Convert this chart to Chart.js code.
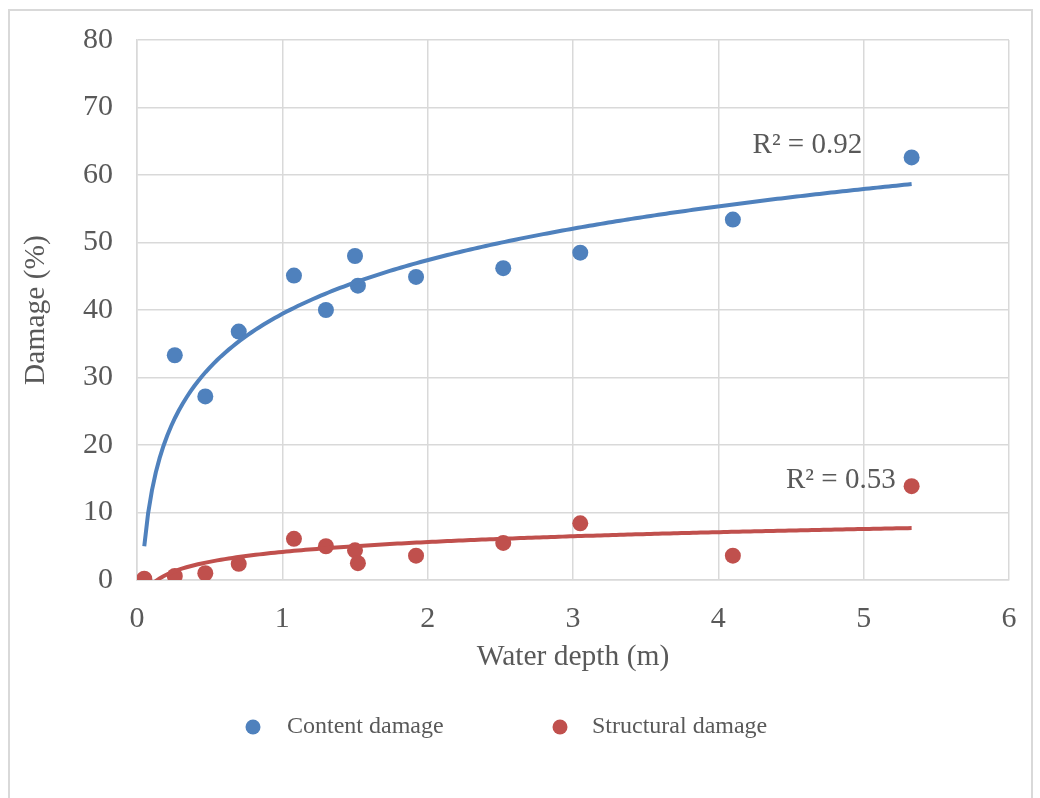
<!DOCTYPE html>
<html>
<head>
<meta charset="utf-8">
<script src="https://cdn.jsdelivr.net/npm/chart.js@4.4.1/dist/chart.umd.min.js"></script>
<style>
  html, body { margin: 0; padding: 0; background: #ffffff; overflow: hidden; }
  #frame {
    position: absolute; left: 8px; top: 9px; width: 1025px; height: 820px;
    border: 2px solid #d9d9d9; box-sizing: border-box;
  }
  #chart { position: absolute; left: 0; top: 0; }
</style>
</head>
<body>
<div id="frame"></div>
<canvas id="chart" width="1040" height="798"></canvas>
<script>
// Water depth (m) for each surveyed building
const depths = [0.05, 0.26, 0.47, 0.70, 1.08, 1.30, 1.50, 1.52, 1.92, 2.52, 3.05, 4.10, 5.33];
// Damage (%) per depth
const contentDamage = [0, 33.3, 27.2, 36.8, 45.1, 40.0, 48.0, 43.6, 44.9, 46.2, 48.5, 53.4, 62.6];
const structuralDamage = [0.2, 0.6, 1.0, 2.4, 6.1, 5.0, 4.4, 2.5, 3.6, 5.5, 8.4, 3.6, 13.9];
const seriesLabels = ['Content damage', 'Structural damage'];
const r2Labels = ['R² = 0.92', 'R² = 0.53'];
const xTicks = [0, 1, 2, 3, 4, 5, 6];
const yTicks = [0, 10, 20, 30, 40, 50, 60, 70, 80];

const BLUE = '#4f81bd';
const RED = '#c0504d';
const TEXT = '#595959';
const GRID = '#d9d9d9';
const FONT = "'Liberation Serif', 'Times New Roman', serif";

// Logarithmic least-squares fit, y = a*ln(x) + b, like the Excel trendline
function logFit(xs, ys) {
    const n = xs.length;
    const lx = xs.map(v => Math.log(v));
    const mx = lx.reduce((s, v) => s + v, 0) / n;
    const my = ys.reduce((s, v) => s + v, 0) / n;
    let sxy = 0, sxx = 0;
    for (let i = 0; i < n; i++) {
        sxy += (lx[i] - mx) * (ys[i] - my);
        sxx += (lx[i] - mx) * (lx[i] - mx);
    }
    const a = sxy / sxx;
    return { a: a, b: my - a * mx };
}

function trendPoints(xs, ys) {
    const fit = logFit(xs, ys);
    const lo = Math.min(...xs), hi = Math.max(...xs);
    const pts = [];
    const steps = 200;
    for (let i = 0; i <= steps; i++) {
        const x = lo + (hi - lo) * i / steps;
        pts.push({ x: x, y: fit.a * Math.log(x) + fit.b });
    }
    return pts;
}

const toPoints = (xs, ys) => xs.map((x, i) => ({ x: x, y: ys[i] }));

// R² labels, anchored by their right edge in data coordinates
const r2Plugin = {
    id: 'r2Labels',
    afterDatasetsDraw(chart) {
        const { ctx, scales: { x, y } } = chart;
        const anchors = [[4.99, 64.4], [5.22, 14.8]];
        ctx.save();
        ctx.font = '29px ' + FONT;
        ctx.fillStyle = TEXT;
        ctx.textAlign = 'right';
        ctx.textBaseline = 'middle';
        r2Labels.forEach((t, i) => {
            ctx.fillText(t, x.getPixelForValue(anchors[i][0]), y.getPixelForValue(anchors[i][1]));
        });
        ctx.restore();
    }
};

// Legend row under the axis title, markers only for the data series
const legendPlugin = {
    id: 'bottomLegend',
    afterDraw(chart) {
        const ctx = chart.ctx;
        const items = [[253, 287, BLUE], [560, 592, RED]];
        ctx.save();
        ctx.font = '24px ' + FONT;
        ctx.textBaseline = 'middle';
        ctx.textAlign = 'left';
        items.forEach((it, i) => {
            ctx.beginPath();
            ctx.arc(it[0], 727, 7.5, 0, Math.PI * 2);
            ctx.fillStyle = it[2];
            ctx.fill();
            ctx.fillStyle = TEXT;
            ctx.fillText(seriesLabels[i], it[1], 727);
        });
        ctx.restore();
    }
};

new Chart(document.getElementById('chart'), {
    type: 'scatter',
    data: {
        datasets: [
            {
                label: seriesLabels[0],
                data: toPoints(depths, contentDamage),
                backgroundColor: BLUE,
                borderWidth: 0,
                pointRadius: 8,
                order: 3
            },
            {
                label: seriesLabels[0] + ' trend',
                type: 'line',
                data: trendPoints(depths, contentDamage),
                borderColor: BLUE,
                borderWidth: 4,
                pointRadius: 0,
                fill: false,
                order: 2
            },
            {
                label: seriesLabels[1],
                data: toPoints(depths, structuralDamage),
                backgroundColor: RED,
                borderWidth: 0,
                pointRadius: 8,
                order: 1
            },
            {
                label: seriesLabels[1] + ' trend',
                type: 'line',
                data: trendPoints(depths, structuralDamage),
                borderColor: RED,
                borderWidth: 4,
                pointRadius: 0,
                fill: false,
                order: 0
            }
        ]
    },
    options: {
        responsive: false,
        animation: false,
        devicePixelRatio: 1,
        layout: { padding: { top: 40, right: 31, left: 0, bottom: 118 } },
        plugins: {
            legend: { display: false },
            tooltip: { enabled: false }
        },
        scales: {
            x: {
                type: 'linear',
                min: 0,
                max: 6,
                afterBuildTicks: axis => { axis.ticks = xTicks.map(v => ({ value: v })); },
                afterFit: axis => { axis.height = 100; },
                grid: { color: GRID, lineWidth: 1.5, drawTicks: false },
                border: { color: GRID, width: 1.5 },
                ticks: { color: TEXT, font: { family: FONT, size: 30 }, padding: 21, maxRotation: 0 },
                title: {
                    display: true,
                    text: 'Water depth (m)',
                    color: TEXT,
                    font: { family: FONT, size: 29.5 },
                    padding: { top: 0, bottom: 5 }
                }
            },
            y: {
                min: 0,
                max: 80,
                afterBuildTicks: axis => { axis.ticks = yTicks.map(v => ({ value: v })); },
                afterFit: axis => {
                    axis.width = 137;
                    // the layout padding already leaves room for the top label
                    axis.paddingTop = 0;
                    axis.paddingBottom = 0;
                },
                grid: { color: GRID, lineWidth: 1.5, drawTicks: false },
                border: { color: GRID, width: 1.5 },
                ticks: { color: TEXT, font: { family: FONT, size: 30 }, padding: 24 },
                title: {
                    display: true,
                    text: 'Damage (%)',
                    color: TEXT,
                    font: { family: FONT, size: 29.5 },
                    padding: { top: 19, bottom: 0 }
                }
            }
        }
    },
    plugins: [r2Plugin, legendPlugin]
});
</script>
</body>
</html>
